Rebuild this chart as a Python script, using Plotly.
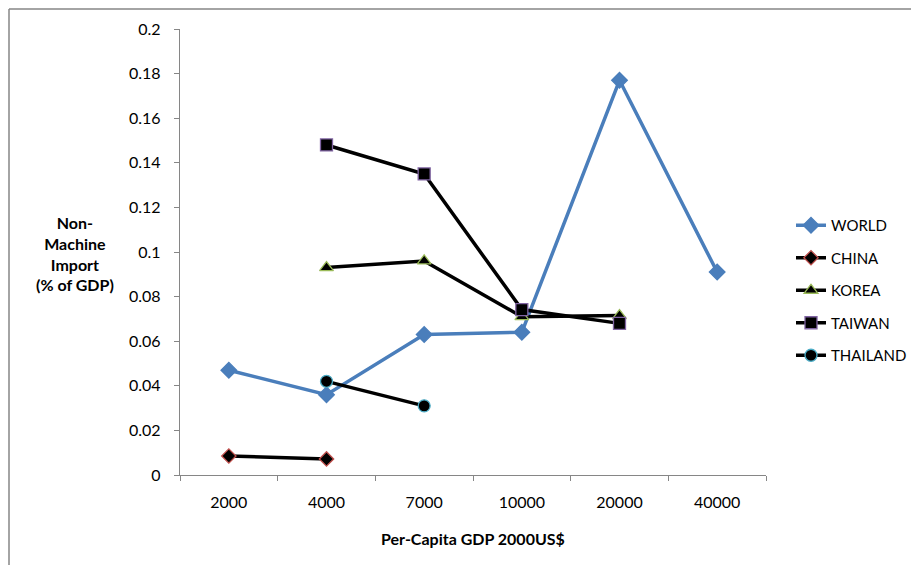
import plotly.graph_objects as go

categories = ["2000", "4000", "7000", "10000", "20000", "40000"]
world = [0.047, 0.036, 0.063, 0.064, 0.177, 0.091]
china = [0.0085, 0.0072, None, None, None, None]
korea = [None, 0.093, 0.096, 0.071, 0.0715, None]
taiwan = [None, 0.148, 0.135, 0.0742, 0.068, None]
thailand = [None, 0.042, 0.031, None, None, None]
ytick_vals = [0, 0.02, 0.04, 0.06, 0.08, 0.1, 0.12, 0.14, 0.16, 0.18, 0.2]
ytick_text = ["0", "0.02", "0.04", "0.06", "0.08", "0.1", "0.12", "0.14", "0.16", "0.18", "0.2"]

FONT = "Lato"

fig = go.Figure()

def add(name, vals, line_color, symbol, mcolor, mline, size):
    fig.add_trace(go.Scatter(
        x=categories, y=vals, name=name, mode="lines+markers",
        connectgaps=False, legendgroup=name,
        line=dict(color=line_color, width=3.5),
        marker=dict(symbol=symbol, color=mcolor, size=size,
                    line=dict(color=mline, width=1.3)),
    ))

add("WORLD", world, "#4A7EBB", "diamond", "#4A7EBB", "#4A7EBB", 12)
add("CHINA", china, "#000000", "diamond", "#000000", "#C0504D", 11)
add("KOREA", korea, "#000000", "triangle-up", "#000000", "#9BBB59", 12)
add("TAIWAN", taiwan, "#000000", "square", "#000000", "#8064A2", 12)
add("THAILAND", thailand, "#000000", "circle", "#000000", "#4BACC6", 12)

L, R, T, B = 180, 145, 29, 90
W, H = 911, 565
pw, ph = W - L - R, H - T - B

def px(x):
    return (x - L) / pw

def py(y):
    return (H - B - y) / ph

fig.update_layout(
    width=W, height=H,
    margin=dict(l=L, r=R, t=T, b=B, pad=0, autoexpand=False),
    paper_bgcolor="white", plot_bgcolor="white",
    font=dict(family=FONT, size=16, color="black"),
    showlegend=True,
    legend=dict(x=px(791), y=py(209), xanchor="left", yanchor="top",
                font=dict(family=FONT, size=15, color="black"),
                tracegroupgap=10, itemwidth=30, bgcolor="rgba(0,0,0,0)"),
    xaxis=dict(type="category", categoryorder="array", categoryarray=categories,
               showgrid=False, zeroline=False, showline=True, linecolor="#868686",
               linewidth=1.3, ticks="outside", tickson="boundaries", ticklen=5,
               tickcolor="#868686", tickwidth=1, ticklabelstandoff=13,
               tickfont=dict(family=FONT, size=16, color="black"),
               range=[-0.5, 5.5]),
    yaxis=dict(range=[0, 0.2], tickvals=ytick_vals, ticktext=ytick_text,
               showgrid=False, zeroline=False, showline=True, linecolor="#868686",
               linewidth=1.3, ticks="outside", ticklen=5, tickcolor="#868686",
               tickwidth=1, ticklabelstandoff=10,
               tickfont=dict(family=FONT, size=16, color="black")),
    annotations=[
        dict(text="<b>Non-<br>Machine<br>Import<br>(% of GDP)</b>", xref="paper", yref="paper",
             x=px(75), y=py(253), xanchor="center", yanchor="middle", showarrow=False,
             font=dict(family=FONT, size=16, color="black"), align="center"),
        dict(text="<b>Per-Capita GDP 2000US$</b>", xref="paper", yref="paper",
             x=px(473), y=py(538), xanchor="center", yanchor="middle", showarrow=False,
             font=dict(family=FONT, size=16, color="black")),
    ],
    shapes=[
        dict(type="line", xref="paper", yref="paper", x0=px(9), x1=px(W + 5), y0=py(9), y1=py(9),
             line=dict(color="#868686", width=1.5)),
        dict(type="line", xref="paper", yref="paper", x0=px(9), x1=px(9), y0=py(9), y1=py(H + 5),
             line=dict(color="#868686", width=1.5)),
    ],
)

fig.write_html("out.html")
